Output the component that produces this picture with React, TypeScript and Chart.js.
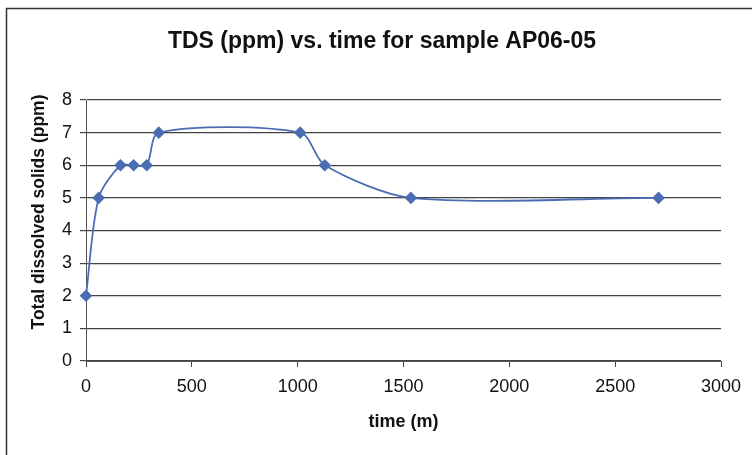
import React, { useEffect, useRef } from "react";
import { Chart, registerables } from "chart.js";

Chart.register(...registerables);

const timeMinutes = [0, 60, 163, 225, 287, 344, 1012, 1128, 1535, 2705];
const tdsPpm = [2, 5, 6, 6, 6, 7, 7, 6, 5, 5];
const chartTitle = "TDS (ppm) vs. time for sample AP06-05";
const xTitle = "time (m)";
const yTitle = "Total dissolved solids (ppm)";

const FONT = "'Liberation Sans', Arial, sans-serif";

const textPlugin = {
  id: "texts",
  afterDraw(chart: any) {
    const ctx = chart.ctx;
    const area = chart.chartArea;
    ctx.save();
    ctx.strokeStyle = "#333";
    ctx.lineWidth = 1.5;
    ctx.beginPath();
    ctx.moveTo(6.5, 455);
    ctx.lineTo(6.5, 8.5);
    ctx.lineTo(752, 8.5);
    ctx.stroke();
    ctx.fillStyle = "#111";
    ctx.textAlign = "center";
    ctx.textBaseline = "middle";
    ctx.font = `bold 23px ${FONT}`;
    ctx.fillText(chartTitle, 382, 42);
    ctx.font = `bold 18px ${FONT}`;
    ctx.fillText(xTitle, (area.left + area.right) / 2, 422);
    ctx.translate(39, 212);
    ctx.rotate(-Math.PI / 2);
    ctx.font = `bold 17.5px ${FONT}`;
    ctx.fillText(yTitle, 0, 0);
    ctx.restore();
  },
};

export default function App() {
  const ref = useRef<HTMLCanvasElement>(null);
  useEffect(() => {
    document.body.style.margin = "0";
    const data = timeMinutes.map((t, i) => ({ x: t, y: tdsPpm[i] }));
    const chart = new Chart(ref.current!, {
      type: "scatter",
      data: {
        datasets: [
          {
            data,
            showLine: true,
            borderColor: "#4a6db2",
            backgroundColor: "#4a6db2",
            borderWidth: 1.8,
            pointStyle: "rectRot",
            pointRadius: 5,
            pointHoverRadius: 5,
            tension: 0.28,
            clip: false,
          },
        ],
      },
      options: {
        animation: false,
        responsive: false,
        layout: { padding: { top: 100, right: 31, left: 0, bottom: 0 } },
        plugins: { legend: { display: false }, tooltip: { enabled: false }, title: { display: false } },
        scales: {
          x: {
            type: "linear",
            min: 0,
            max: 3000,
            afterFit(s: any) {
              s.height = 94;
            },
            ticks: {
              stepSize: 500,
              color: "#111",
              font: { family: FONT, size: 18 },
              padding: 9,
              callback: (v: any) => String(v),
            },
            grid: { display: true, drawOnChartArea: false, drawTicks: true, tickLength: 6, color: "#444" },
            border: { display: true, color: "#555", width: 1 },
          },
          y: {
            min: 0,
            max: 8,
            afterFit(s: any) {
              s.width = 86;
            },
            ticks: { stepSize: 1, color: "#111", font: { family: FONT, size: 18 }, padding: 8 },
            grid: { color: "#444", lineWidth: 1.2, tickLength: 6 },
            border: { display: true, color: "#555", width: 1 },
          },
        },
      },
      plugins: [textPlugin],
    } as any);
    return () => chart.destroy();
  }, []);
  return (
    <div style={{ position: "absolute", left: 0, top: 0, width: 752, height: 455, background: "#fff" }}>
      <canvas ref={ref} width={752} height={455} style={{ display: "block" }} />
    </div>
  );
}
